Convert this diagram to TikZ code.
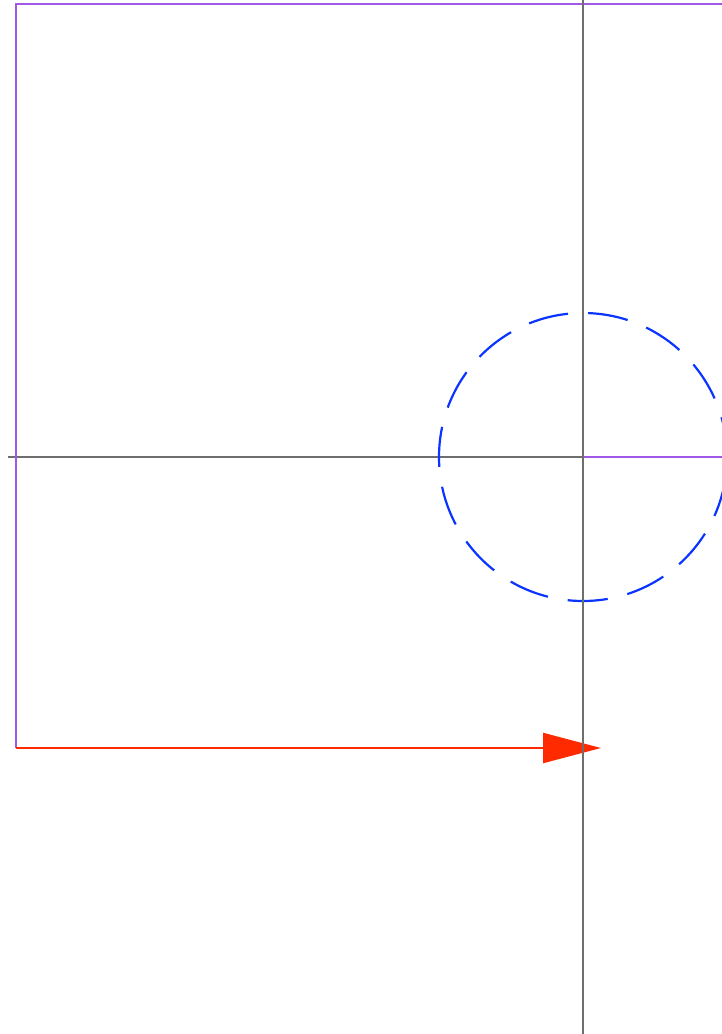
\documentclass[tikz,border=0pt]{standalone}
\usetikzlibrary{arrows.meta}
\definecolor{axisgray}{HTML}{6E6E6E}
\definecolor{framepurple}{HTML}{A058E6}
\definecolor{arrowred}{HTML}{FF2A00}
\definecolor{circleblue}{HTML}{0A34FF}
\tikzset{
  axisline/.style={draw=axisgray, line width=1.5pt},
  frameline/.style={draw=framepurple, line width=2.2pt},
  redarrow/.style={draw=arrowred, line width=2.2pt, -{Triangle[length=58pt,width=30pt]}},
  dashcircle/.style={draw=circleblue, line width=2.2pt, dash pattern=on 40.2pt off 20.1pt},
}
\begin{document}
\begin{tikzpicture}[x=1pt,y=-1pt]
\useasboundingbox (0,0) rectangle (722,1034);
\clip (0,0) rectangle (722,1034);
\coordinate (O) at (583,457);
\coordinate (hl) at (8,457);
\coordinate (vt) at (583,-2);
\coordinate (vb) at (583,1036);
\coordinate (pr) at (730,457);
\coordinate (tr) at (730,4);
\coordinate (tl) at (16,4);
\coordinate (bl) at (16,748);
\coordinate (tip) at (601,748);
\draw[axisline] (hl) -- (O);
\draw[frameline] (O) -- (pr);
\draw[frameline] (tr) -- (tl) -- (bl);
\draw[redarrow] (bl) -- (tip);
\draw[dashcircle] (O) ++(144,0) arc[start angle=0, end angle=-360, radius=144];
\draw[axisline] (vt) -- (vb);
\end{tikzpicture}
\end{document}
